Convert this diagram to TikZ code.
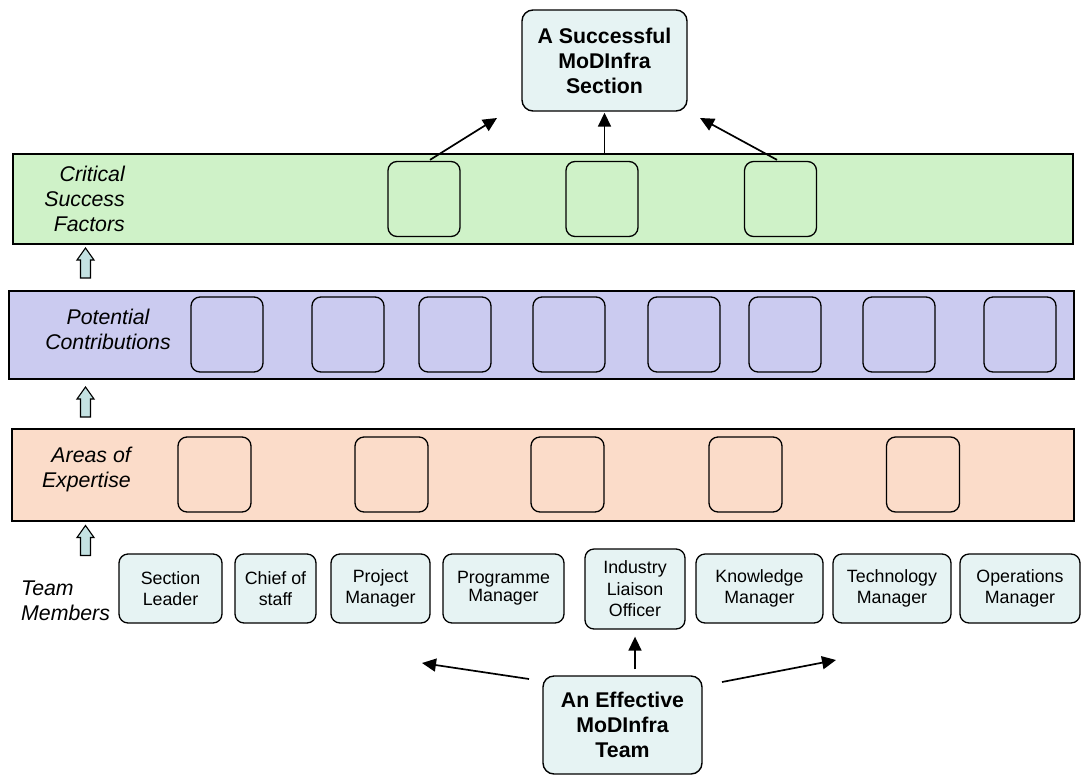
\documentclass[tikz,border=0pt]{standalone}
\usepackage{fontspec}
\setmainfont{Liberation Sans}
\usetikzlibrary{arrows.meta}
\definecolor{bandgreen}{HTML}{CFF2C8}
\definecolor{bandblue}{HTML}{CBCBF0}
\definecolor{bandorange}{HTML}{FBDCC9}
\definecolor{boxcyan}{HTML}{E6F3F3}
\definecolor{liftcyan}{HTML}{C4E2E2}
\tikzset{
  band/.style={draw=black, line width=1.7pt, inner sep=0pt, anchor=north west},
  slot/.style={draw=black, line width=1.3pt, rounded corners=9pt, inner sep=0pt,
    minimum width=72pt, minimum height=75pt},
  member/.style={draw=black, line width=1.3pt, rounded corners=9pt, fill=boxcyan,
    align=center, inner sep=2pt, font=\fontsize{17.8}{21.5}\selectfont},
  goal/.style={draw=black, line width=1.4pt, rounded corners=11pt, fill=boxcyan,
    align=center, inner sep=2pt, font=\bfseries\fontsize{21.3}{25}\selectfont},
  bandlabel/.style={font=\itshape\fontsize{21.3}{25}\selectfont, inner sep=0pt},
  flow/.style={line width=1.7pt, -{Triangle[length=14pt,width=13pt]}},
  lift/.pic={\draw[line width=1.1pt, fill=liftcyan, line join=miter]
    (-5,15) -- (-5,-3) -- (-8.5,-3) -- (0,-15) -- (8.5,-3) -- (5,-3) -- (5,15) -- cycle;}
}
\begin{document}
\begin{tikzpicture}[x=1pt, y=-1pt]
\useasboundingbox (0,0) rectangle (1084,777);

% goal at the top
\node[goal, minimum width=165pt, minimum height=101pt] (goal) at (604.5,60.5)
  {A Successful\\MoDInfra\\Section};

% three layered bands
\node[band, fill=bandgreen, minimum width=1060pt, minimum height=90pt] (csf) at (12,153) {};
\node[band, fill=bandblue, minimum width=1065pt, minimum height=88pt] (pc) at (8,290) {};
\node[band, fill=bandorange, minimum width=1062pt, minimum height=92pt] (ae) at (11,428) {};

% band captions
\node[bandlabel, align=right, anchor=east] (csfl) at (125,199) {Critical\\Success\\Factors};
\node[bandlabel, align=center] (pcl) at (108,329) {Potential\\Contributions};
\node[bandlabel, align=right, anchor=east] (ael) at (131,469) {Areas of\\Expertise};
\node[bandlabel, align=left, anchor=west] (tml) at (21,601) {Team\\Members};

% empty slots in the critical success factors band
\node[slot] (c1) at (424,199) {};
\node[slot] (c2) at (602,199) {};
\node[slot] (c3) at (780.5,199) {};

% empty slots in the potential contributions band
\foreach \x [count=\i] in {227,348,455,569,684,785,899,1020}
  \node[slot] (p\i) at (\x,334.5) {};

% empty slots in the areas of expertise band
\foreach \x [count=\i] in {214.5,391.5,567.5,745.5,923}
  \node[slot, minimum width=73pt] (a\i) at (\x,474.5) {};

% hollow arrows linking the bands
\pic at (85.5,263) {lift};
\pic at (85.5,402) {lift};
\pic at (85.5,540.5) {lift};

% team members
\node[member, minimum width=103pt, minimum height=69pt] (sl) at (170.5,588.5) {Section\\Leader};
\node[member, minimum width=81pt, minimum height=69pt] (cos) at (275.5,588.5) {Chief of\\staff};
\node[member, minimum width=99pt, minimum height=69pt] (pm) at (380.5,588.5) {Project\\Manager};
\node[member, minimum width=121pt, minimum height=69pt] (prm) at (503.5,588.5)
  {\raisebox{4pt}{\shortstack{Programme\\[-1pt]Manager}}};
\node[member, minimum width=100pt, minimum height=80pt] (ilo) at (635,589) {Industry\\Liaison\\Officer};
\node[member, minimum width=127pt, minimum height=69pt] (km) at (759.5,588.5) {Knowledge\\Manager};
\node[member, minimum width=118pt, minimum height=69pt] (tm) at (892,588.5) {Technology\\Manager};
\node[member, minimum width=120pt, minimum height=69pt] (om) at (1020,588.5) {Operations\\Manager};

% team at the bottom
\node[goal, minimum width=159pt, minimum height=98pt] (team) at (622.5,725)
  {An Effective\\MoDInfra\\Team};

% arrows towards the goal
\coordinate (g1) at (497,118);
\coordinate (g3) at (700,118);
\draw[flow] (c1.north -| 430,0) ++(0,-1) -- (g1);
\draw[flow] (csf.north -| goal.south) -- ([yshift=-1pt]goal.south);
\draw[flow] (c3.north -| 777,0) ++(0,-1) -- (g3);

% arrows from the team
\coordinate (t1) at (422,663);
\coordinate (t3) at (836,660);
\coordinate (t1s) at (529,679);
\coordinate (t3s) at (722,682);
\draw[flow] (t1s) -- (t1);
\draw[flow] ([yshift=6pt]team.north -| ilo.south) -- ([yshift=-7pt]ilo.south);
\draw[flow] (t3s) -- (t3);
\end{tikzpicture}
\end{document}
